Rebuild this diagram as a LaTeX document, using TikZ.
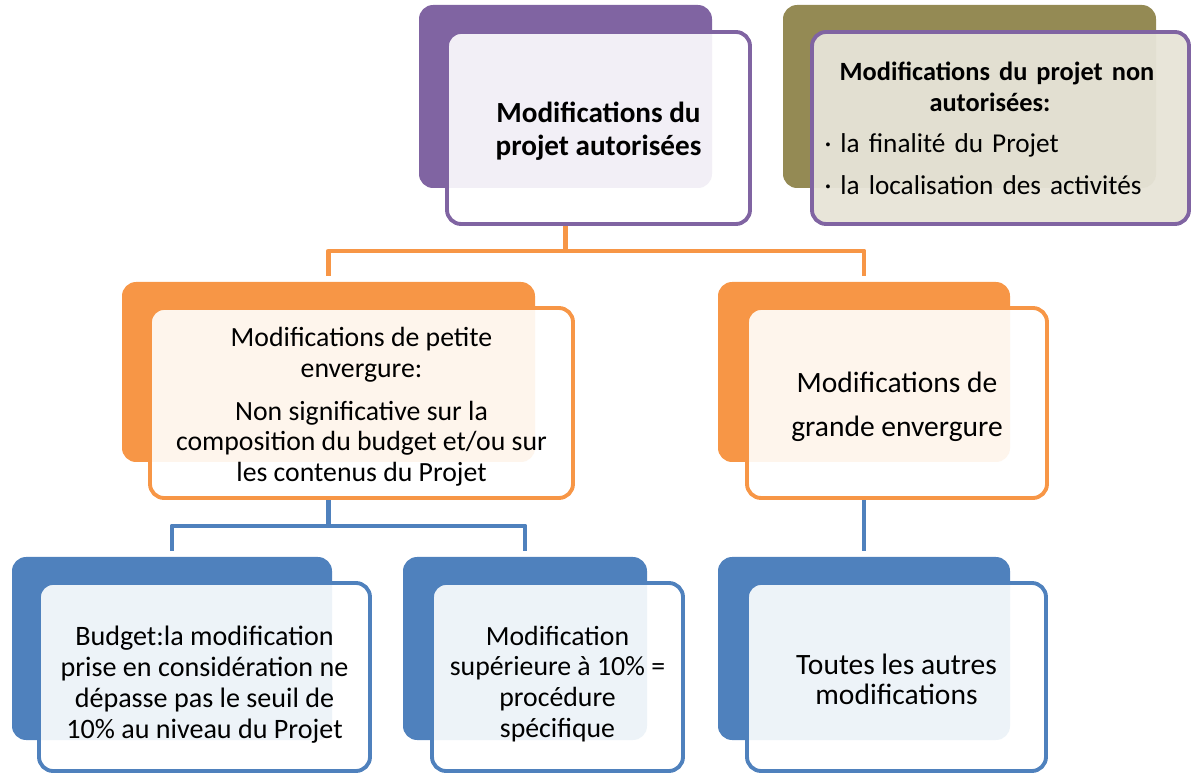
\documentclass[tikz,border=0pt]{standalone}
\usepackage{fontspec}
\setmainfont{Carlito}
\usepackage{xcolor}
\usetikzlibrary{fit, positioning, backgrounds}

\definecolor{lilas}{HTML}{8064A2}
\definecolor{olive}{HTML}{948A54}
\definecolor{orangeC}{HTML}{F79646}
\definecolor{bleu}{HTML}{4F81BD}

\tikzset{
  backbox/.style={fill=#1, rounded corners=8pt, inner sep=0pt, outer sep=0pt},
  frontbox/.style={draw=#1, line width=2.2pt, rounded corners=8pt,
    inner sep=0pt, outer sep=0pt},
  txt/.style={align=center, inner sep=0pt},
  link/.style={line width=2.8pt, line join=round, shorten >=3.5pt},
}

\begin{document}
\begin{tikzpicture}[x=0.02cm, y=-0.02cm, font=\fontsize{15.8pt}{17.6pt}\selectfont]
  \useasboundingbox (0,0) rectangle (1191,773);

  % --- top row
  \node[backbox=lilas, fit={(419,5) (712,188)}] (autoB) {};
  \begin{scope}
    \clip[rounded corners=8pt] (447,32) rectangle (750,224);
    \fill[white] (447,32) rectangle (750,224);
    \fill[lilas!10, rounded corners=8pt] (419,5) rectangle (712,188);
  \end{scope}
  \node[frontbox=lilas, fit={(447,32) (750,224)}] (auto) {};
  \node[txt, yshift=-1.7pt, font=\bfseries\fontsize{16.6pt}{18.7pt}\selectfont]
    (autoTxt) at (auto) {Modifications du\\projet autorisées};

  \node[backbox=olive, fit={(783,5) (1156,188)}] (nonB) {};
  \begin{scope}
    \clip[rounded corners=8pt] (812,32) rectangle (1189,224);
    \fill[olive!22] (812,32) rectangle (1189,224);
    \fill[olive!27, rounded corners=8pt] (783,5) rectangle (1156,188);
  \end{scope}
  \node[frontbox=lilas, fit={(812,32) (1189,224)}] (non) {};
  \node[text width=6.9cm, align=left, xshift=-2pt,
    font=\fontsize{15.5pt}{17.6pt}\selectfont] (nonTxt) at (non)
    {{\centering\bfseries\fontsize{15pt}{17.6pt}\selectfont
      Modifications du projet non\hspace*{8pt}\\autorisées:\hspace*{8pt}\par}
     \vspace{6pt}
     · la finalité du Projet\\[6pt]
     · la localisation des activités};

  % --- second row
  \node[backbox=orangeC, fit={(122,282) (535,462)}] (petiteB) {};
  \begin{scope}
    \clip[rounded corners=8pt] (150,308) rectangle (573,498);
    \fill[white] (150,308) rectangle (573,498);
    \fill[orangeC!10, rounded corners=8pt] (122,282) rectangle (535,462);
  \end{scope}
  \node[frontbox=orangeC, fit={(150,308) (573,498)}] (petite) {};
  \node[txt, yshift=-2.3pt] (petiteTxt) at (petite)
    {Modifications de petite\\envergure:\\[6.5pt]
     Non significative sur la\\composition du budget et/ou sur\\
     les contenus du Projet};

  \node[backbox=orangeC, fit={(718,282) (1010,462)}] (grandeB) {};
  \begin{scope}
    \clip[rounded corners=8pt] (747,308) rectangle (1047,498);
    \fill[white] (747,308) rectangle (1047,498);
    \fill[orangeC!10, rounded corners=8pt] (718,282) rectangle (1010,462);
  \end{scope}
  \node[frontbox=orangeC, fit={(747,308) (1047,498)}] (grande) {};
  \node[txt, yshift=-2.3pt, font=\fontsize{16.8pt}{19pt}\selectfont]
    (grandeTxt) at (grande) {Modifications de\\[6pt]grande envergure};

  % --- third row
  \node[backbox=bleu, fit={(12,557) (332,740)}] (budgetB) {};
  \begin{scope}
    \clip[rounded corners=8pt] (39,583) rectangle (370,771);
    \fill[white] (39,583) rectangle (370,771);
    \fill[bleu!10, rounded corners=8pt] (12,557) rectangle (332,740);
  \end{scope}
  \node[frontbox=bleu, fit={(39,583) (370,771)}] (budget) {};
  \node[txt, yshift=-4.5pt, font=\fontsize{16pt}{17.6pt}\selectfont]
    (budgetTxt) at (budget)
    {Budget:la modification\\prise en considération ne\\
     dépasse pas le seuil de\\10\% au niveau du Projet};

  \node[backbox=bleu, fit={(403,557) (647,740)}] (specB) {};
  \begin{scope}
    \clip[rounded corners=8pt] (432,583) rectangle (683,771);
    \fill[white] (432,583) rectangle (683,771);
    \fill[bleu!10, rounded corners=8pt] (403,557) rectangle (647,740);
  \end{scope}
  \node[frontbox=bleu, fit={(432,583) (683,771)}] (spec) {};
  \node[txt, yshift=-4pt] (specTxt) at (spec)
    {Modification\\supérieure à 10\% =\\procédure\\spécifique};

  \node[backbox=bleu, fit={(718,557) (1010,740)}] (autresB) {};
  \begin{scope}
    \clip[rounded corners=8pt] (747,583) rectangle (1046,771);
    \fill[white] (747,583) rectangle (1046,771);
    \fill[bleu!10, rounded corners=8pt] (718,557) rectangle (1010,740);
  \end{scope}
  \node[frontbox=bleu, fit={(747,583) (1046,771)}] (autres) {};
  \node[txt, yshift=-1.1pt, font=\fontsize{16.8pt}{17pt}\selectfont]
    (autresTxt) at (autres) {Toutes les autres\\modifications};

  % --- connectors, behind the boxes
  \begin{scope}[on background layer]
    \draw[link, orangeC] (autoB.south) -- ++(0,63) -| (petiteB.north);
    \draw[link, orangeC] (autoB.south) -- ++(0,63) -| (grandeB.north);
    \draw[link, bleu] (petiteB.south) -- ++(0,64) -| (budgetB.north);
    \draw[link, bleu] (petiteB.south) -- ++(0,64) -| (specB.north);
    \draw[link, bleu] (grandeB.south) -- (autresB.north);
  \end{scope}
\end{tikzpicture}
\end{document}
